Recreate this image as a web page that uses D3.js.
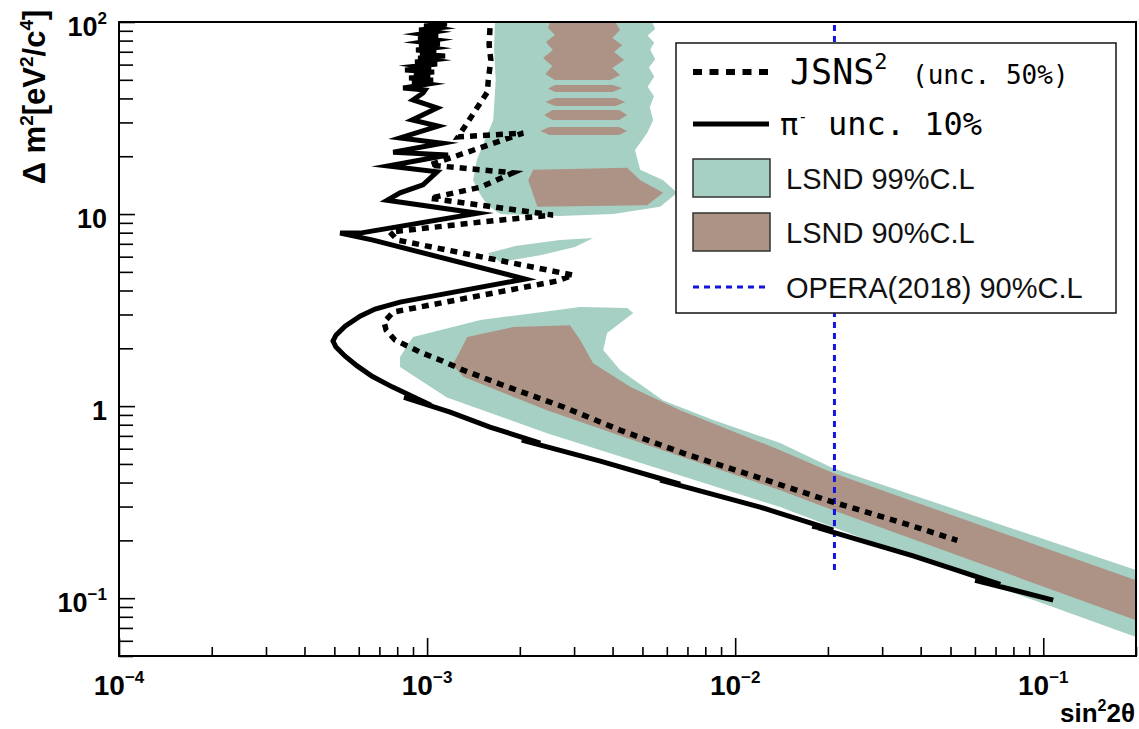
<!DOCTYPE html>
<html>
<head>
<meta charset="utf-8">
<script src="https://cdn.jsdelivr.net/npm/d3@7"></script>
<style>
  body { margin: 0; background: #fff; }
  svg { display: block; }
</style>
</head>
<body>
<svg id="chart" width="1139" height="729"></svg>
<script>
// ---- data: each point is [sin^2(2theta), delta m^2 (eV^2/c^4)] ----

// pi- decay-at-rest sensitivity, 10% uncertainty (solid)
const piMinusSens = [
  [1.0075e-3, 100], [1.16e-3, 97.6], [9.78e-4, 95.3], [1.078e-3, 93.0], [9.42e-4, 90.8],
  [1.054e-3, 88.7], [9.56e-4, 86.6], [1.086e-3, 84.5], [9.35e-4, 82.5], [1.062e-3, 80.6],
  [9.63e-4, 78.6], [1.10e-3, 76.8], [9.42e-4, 75.0], [1.046e-3, 73.2], [9.21e-4, 71.4],
  [1.07e-3, 69.8], [9.49e-4, 68.1], [1.144e-3, 66.5], [9.35e-4, 64.9], [1.038e-3, 63.4],
  [9.14e-4, 61.9], [1.078e-3, 60.4], [9.35e-4, 59.0], [1.030e-3, 57.6], [8.48e-4, 56.2],
  [1.054e-3, 54.9], [9.07e-4, 53.6], [1.023e-3, 52.3], [8.74e-4, 51.1], [1.046e-3, 49.9],
  [8.94e-4, 48.7], [1.0075e-3, 47.5], [8.36e-4, 45.3], [9.85e-4, 44.2],
  [9.70e-4, 42.7], [9.0e-4, 39.3], [1.078e-3, 35.7], [8.94e-4, 30.9], [1.086e-3, 28.7],
  [8.17e-4, 24.9], [1.12e-3, 23.4], [7.76e-4, 21.0], [1.17e-3, 20.3], [7.47e-4, 17.8],
  [1.078e-3, 16.6], [9.70e-4, 14.2], [8.17e-4, 12.9], [7.42e-4, 11.8], [1.46e-3, 10.1],
  [6.06e-4, 7.96], [5.22e-4, 7.96], [6.68e-4, 7.32], [2.08e-3, 4.59], [8.17e-4, 3.48],
  [6.78e-4, 3.20], [6.06e-4, 2.94], [5.42e-4, 2.61], [5.06e-4, 2.34], [4.95e-4, 2.18],
  [5.06e-4, 2.03], [5.42e-4, 1.82], [5.93e-4, 1.62], [6.63e-4, 1.43], [7.70e-4, 1.26],
  [9.35e-4, 1.088], [8.42e-4, 1.11], [1.188e-3, 0.931], [1.60e-3, 0.778], [2.33e-3, 0.642],
  [2.03e-3, 0.665], [3.65e-3, 0.517], [6.63e-3, 0.392], [5.71e-3, 0.412], [1.205e-2, 0.298],
  [2.08e-2, 0.226], [1.78e-2, 0.237], [3.78e-2, 0.166], [7.25e-2, 0.118], [6.01e-2, 0.124],
  [0.1077, 0.0977]
];

// JSNS^2 sensitivity, 50% uncertainty (dotted)
const jsnsSens = [
  [1.60e-3, 93.0], [1.59e-3, 75.9], [1.61e-3, 63.4], [1.58e-3, 49.9], [1.57e-3, 43.2],
  [1.26e-3, 25.2], [2.05e-3, 26.4], [1.02e-3, 18.0], [1.90e-3, 16.4], [1.49e-3, 13.8],
  [1.02e-3, 12.1], [2.56e-3, 9.88], [1.49e-3, 9.08], [7.58e-4, 8.06], [8.0e-4, 7.32],
  [2.98e-3, 4.81], [2.64e-3, 4.48], [7.76e-4, 3.09], [7.25e-4, 2.74], [7.36e-4, 2.49],
  [7.87e-4, 2.21], [9.49e-4, 1.91], [1.10e-3, 1.74], [1.31e-3, 1.54], [1.73e-3, 1.30],
  [2.77e-3, 0.99], [4.23e-3, 0.750], [6.78e-3, 0.569], [1.205e-2, 0.422], [2.08e-2, 0.316],
  [3.43e-2, 0.249], [5.26e-2, 0.200]
];

// LSND 99% C.L. allowed regions
const lsnd99Upper = [
  [1.66e-3, 100], [5.38e-3, 100], [5.5e-3, 92], [5.2e-3, 85], [5.46e-3, 78], [5.30e-3, 72],
  [5.5e-3, 64], [5.25e-3, 58], [5.46e-3, 52], [5.2e-3, 46], [5.45e-3, 41], [5.28e-3, 36],
  [5.42e-3, 30.9], [5.18e-3, 26.4], [4.73e-3, 21.5], [4.92e-3, 17.0], [5.84e-3, 15.0],
  [6.48e-3, 12.9], [5.71e-3, 10.9], [4.02e-3, 10.0], [2.70e-3, 9.76], [1.73e-3, 10.0],
  [1.57e-3, 11.1], [1.49e-3, 12.6], [1.41e-3, 15.0], [1.45e-3, 19.1], [1.54e-3, 24.3],
  [1.64e-3, 30.9], [1.67e-3, 49.9], [1.65e-3, 71.4]
];
const lsnd99Island = [
  [1.57e-3, 6.26], [1.93e-3, 6.81], [2.70e-3, 7.32], [3.46e-3, 7.50], [3.02e-3, 6.73],
  [2.33e-3, 6.11], [1.73e-3, 5.62]
];
const lsnd99Lower = [
  [8.17e-4, 1.80], [9.0e-4, 2.29], [1.49e-3, 2.81], [3.14e-3, 3.28], [4.46e-3, 3.24],
  [4.67e-3, 3.05], [3.84e-3, 2.40], [3.73e-3, 1.96], [4.23e-3, 1.54], [5.84e-3, 1.07],
  [8.49e-3, 0.846], [1.40e-2, 0.642], [2.08e-2, 0.475], [0.2, 0.140], [0.2, 0.0627],
  [0.108, 0.0898], [2.96e-2, 0.189], [1.40e-2, 0.298], [2.45e-3, 0.723], [1.16e-3, 1.11],
  [8.17e-4, 1.60]
];

// LSND 90% C.L. allowed regions
const lsnd90Top = [
  [2.51e-3, 100], [4.08e-3, 100], [4.23e-3, 90.8], [3.99e-3, 82.5], [4.30e-3, 75.9],
  [4.05e-3, 69.8], [4.36e-3, 63.4], [3.99e-3, 57.6], [4.23e-3, 52.9], [3.93e-3, 49.9],
  [2.60e-3, 49.9], [2.42e-3, 53.6], [2.55e-3, 59.0], [2.38e-3, 64.9], [2.56e-3, 71.4],
  [2.43e-3, 78.6], [2.60e-3, 85.6], [2.47e-3, 93.0]
];
const lsnd90StripeA = [[2.47e-3, 45.0], [2.6e-3, 47.0], [4.0e-3, 47.0], [4.3e-3, 45.3], [4.0e-3, 43.2], [2.6e-3, 43.2]];
const lsnd90StripeB = [[2.42e-3, 38.3], [2.6e-3, 40.2], [4.1e-3, 40.2], [4.4e-3, 38.3], [4.1e-3, 36.5], [2.6e-3, 36.5]];
const lsnd90StripeC = [[2.40e-3, 32.8], [2.55e-3, 34.8], [4.2e-3, 34.8], [4.46e-3, 32.8], [4.2e-3, 30.9], [2.55e-3, 30.9]];
const lsnd90StripeD = [[2.33e-3, 27.1], [2.5e-3, 28.4], [4.2e-3, 28.4], [4.46e-3, 27.1], [4.2e-3, 25.8], [2.5e-3, 25.8]];
const lsnd90Mid = [
  [2.21e-3, 17.0], [4.46e-3, 17.4], [4.92e-3, 15.0], [5.84e-3, 12.9], [5.18e-3, 11.1],
  [2.28e-3, 10.9], [2.13e-3, 15.0]
];
const lsnd90Lower = [
  [1.25e-3, 1.80], [1.35e-3, 2.29], [1.90e-3, 2.58], [2.91e-3, 2.64], [3.14e-3, 2.21],
  [3.46e-3, 1.67], [4.56e-3, 1.26], [6.63e-3, 0.953], [1.40e-2, 0.590], [2.08e-2, 0.448],
  [0.2, 0.124], [0.2, 0.0768], [2.08e-2, 0.287], [1.40e-2, 0.365], [5.18e-3, 0.627],
  [2.45e-3, 0.953], [1.31e-3, 1.42], [1.21e-3, 1.64]
];

// OPERA (2018) 90% C.L. limit
const operaSin2 = 0.021;
const operaDm2 = [0.14, 100];

// axis ranges and labelled decades
const xDomain = [1e-4, 0.2];
const yDomain = [0.05, 100];
const xTickPowers = [-4, -3, -2, -1];
const yTickPowers = [-1, 0, 1, 2];

(function draw() {
  const svg = d3.select("#chart");
  const pL = 119, pR = 1136, pT = 22, pB = 656;
  const colTeal = "#a7d0c5", colBrown = "#ac9385", colBlue = "#1414dc";
  const sans = "'Liberation Sans', Arial, sans-serif";
  const mono = "'DejaVu Sans Mono', monospace";

  const x = d3.scaleLog().domain(xDomain).range([pL, pR]);
  const y = d3.scaleLog().domain(yDomain).range([pB, pT]);

  svg.append("defs").append("clipPath").attr("id", "plotClip")
    .append("rect").attr("x", pL).attr("y", pT)
    .attr("width", pR - pL).attr("height", pB - pT);

  const plot = svg.append("g").attr("clip-path", "url(#plotClip)");
  const poly = d3.line().x(d => x(d[0])).y(d => y(d[1])).curve(d3.curveLinearClosed);
  const path = d3.line().x(d => x(d[0])).y(d => y(d[1]));

  // allowed regions
  [lsnd99Upper, lsnd99Island, lsnd99Lower].forEach(r =>
    plot.append("path").attr("d", poly(r)).attr("fill", colTeal));
  [lsnd90Top, lsnd90StripeA, lsnd90StripeB, lsnd90StripeC, lsnd90StripeD, lsnd90Mid, lsnd90Lower].forEach(r =>
    plot.append("path").attr("d", poly(r)).attr("fill", colBrown));

  // OPERA limit
  plot.append("line")
    .attr("x1", x(operaSin2)).attr("x2", x(operaSin2))
    .attr("y1", y(operaDm2[0])).attr("y2", y(operaDm2[1]))
    .attr("stroke", colBlue).attr("stroke-width", 3).attr("stroke-dasharray", "6,5");

  // sensitivity curves
  plot.append("path").attr("d", path(jsnsSens))
    .attr("fill", "none").attr("stroke", "#000").attr("stroke-width", 5.5)
    .attr("stroke-dasharray", "7,6").attr("stroke-linejoin", "miter");
  plot.append("path").attr("d", path(piMinusSens))
    .attr("fill", "none").attr("stroke", "#000").attr("stroke-width", 5)
    .attr("stroke-linejoin", "miter").attr("stroke-miterlimit", 8);

  // ---- axes ----
  function minorValues(domain) {
    const out = [];
    for (let p = Math.floor(Math.log10(domain[0])); p <= Math.ceil(Math.log10(domain[1])); p++) {
      for (let m = 2; m <= 9; m++) {
        const v = m * Math.pow(10, p);
        if (v >= domain[0] * 0.999 && v <= domain[1] * 1.001) out.push(v);
      }
    }
    return out;
  }
  const xMajor = xTickPowers.map(p => Math.pow(10, p));
  const yMajor = yTickPowers.map(p => Math.pow(10, p));

  function styleAxis(g) {
    g.select(".domain").remove();
    g.selectAll(".tick line").attr("stroke", "#000").attr("stroke-width", 1.6);
  }
  svg.append("g").attr("transform", `translate(0,${pB})`)
    .call(d3.axisBottom(x).tickValues(minorValues(xDomain)).tickSize(-9).tickFormat(""))
    .call(styleAxis);
  svg.append("g").attr("transform", `translate(0,${pB})`)
    .call(d3.axisBottom(x).tickValues(xMajor).tickSize(-18).tickFormat(""))
    .call(styleAxis);
  svg.append("g").attr("transform", `translate(${pL},0)`)
    .call(d3.axisLeft(y).tickValues(minorValues(yDomain)).tickSize(-14).tickFormat(""))
    .call(styleAxis);
  svg.append("g").attr("transform", `translate(${pL},0)`)
    .call(d3.axisLeft(y).tickValues(yMajor).tickSize(-16).tickFormat(""))
    .call(styleAxis);

  // frame
  svg.append("rect").attr("x", pL).attr("y", pT)
    .attr("width", pR - pL).attr("height", pB - pT)
    .attr("fill", "none").attr("stroke", "#000").attr("stroke-width", 2);

  // tick labels
  function powerLabel(sel, p) {
    if (p === 0) { sel.append("tspan").text("1"); return; }
    if (p === 1) { sel.append("tspan").text("10"); return; }
    sel.append("tspan").text("10");
    sel.append("tspan").attr("font-size", 17).attr("dy", -12)
      .text(p < 0 ? "\u2212" + (-p) : String(p));
  }
  xTickPowers.forEach(p => {
    const t = svg.append("text").attr("x", x(Math.pow(10, p))).attr("y", 695)
      .attr("text-anchor", "middle").attr("font-family", sans)
      .attr("font-weight", "bold").attr("font-size", 28);
    powerLabel(t, p);
  });
  yTickPowers.forEach(p => {
    const t = svg.append("text").attr("x", 107).attr("y", y(Math.pow(10, p)) + 14)
      .attr("text-anchor", "end").attr("font-family", sans)
      .attr("font-weight", "bold").attr("font-size", 27);
    powerLabel(t, p);
  });

  // axis titles
  const yt = svg.append("text").attr("transform", "translate(45,97) rotate(-90)")
    .attr("text-anchor", "middle").attr("font-family", sans)
    .attr("font-weight", "bold").attr("font-size", 31);
  yt.append("tspan").text("\u0394 m");
  yt.append("tspan").attr("font-size", 19).attr("dy", -12).text("2");
  yt.append("tspan").attr("dy", 12).text("[eV");
  yt.append("tspan").attr("font-size", 19).attr("dy", -12).text("2");
  yt.append("tspan").attr("dy", 12).text("/c");
  yt.append("tspan").attr("font-size", 19).attr("dy", -12).text("4");
  yt.append("tspan").attr("dy", 12).text("]");

  const xt = svg.append("text").attr("x", 1135).attr("y", 722)
    .attr("text-anchor", "end").attr("font-family", sans)
    .attr("font-weight", "bold").attr("font-size", 26);
  xt.append("tspan").text("sin");
  xt.append("tspan").attr("font-size", 16).attr("dy", -11).text("2");
  xt.append("tspan").attr("dy", 11).text("2\u03b8");

  // ---- legend ----
  const lg = svg.append("g");
  lg.append("rect").attr("x", 676).attr("y", 43).attr("width", 440).attr("height", 270)
    .attr("fill", "#fff").attr("stroke", "#222").attr("stroke-width", 1.6);

  lg.append("line").attr("x1", 693).attr("x2", 768).attr("y1", 72).attr("y2", 72)
    .attr("stroke", "#000").attr("stroke-width", 6).attr("stroke-dasharray", "9,7.5");
  const t1 = lg.append("text").attr("x", 790).attr("y", 84).attr("font-family", mono)
    .attr("font-size", 35).attr("fill", "#000");
  t1.append("tspan").text("JSNS");
  t1.append("tspan").attr("font-size", 22).attr("dy", -15).text("2");
  t1.append("tspan").attr("x", 912).attr("dy", 15).attr("font-size", 26).text("(unc. 50%)");

  lg.append("line").attr("x1", 693).attr("x2", 769).attr("y1", 124).attr("y2", 124)
    .attr("stroke", "#000").attr("stroke-width", 5);
  const t2 = lg.append("text").attr("x", 780).attr("y", 135).attr("font-family", mono)
    .attr("font-size", 30).attr("fill", "#000");
  t2.append("tspan").text("\u03c0");
  t2.append("tspan").attr("font-size", 16).attr("dy", -13).text("-");
  t2.append("tspan").attr("x", 828).attr("dy", 13).attr("font-size", 32).text("unc. 10%");

  lg.append("rect").attr("x", 693).attr("y", 159).attr("width", 77).attr("height", 38)
    .attr("fill", colTeal).attr("stroke", "#333").attr("stroke-width", 1.5);
  lg.append("text").attr("x", 786).attr("y", 189).attr("font-family", sans)
    .attr("font-size", 29).attr("fill", "#111").text("LSND 99%C.L");

  lg.append("rect").attr("x", 693).attr("y", 213).attr("width", 77).attr("height", 38)
    .attr("fill", colBrown).attr("stroke", "#333").attr("stroke-width", 1.5);
  lg.append("text").attr("x", 786).attr("y", 243).attr("font-family", sans)
    .attr("font-size", 29).attr("fill", "#111").text("LSND 90%C.L");

  lg.append("line").attr("x1", 693).attr("x2", 767).attr("y1", 287).attr("y2", 287)
    .attr("stroke", colBlue).attr("stroke-width", 3).attr("stroke-dasharray", "6,5");
  lg.append("text").attr("x", 786).attr("y", 298).attr("font-family", sans)
    .attr("font-size", 29).attr("fill", "#111").text("OPERA(2018) 90%C.L");
})();
</script>
</body>
</html>
